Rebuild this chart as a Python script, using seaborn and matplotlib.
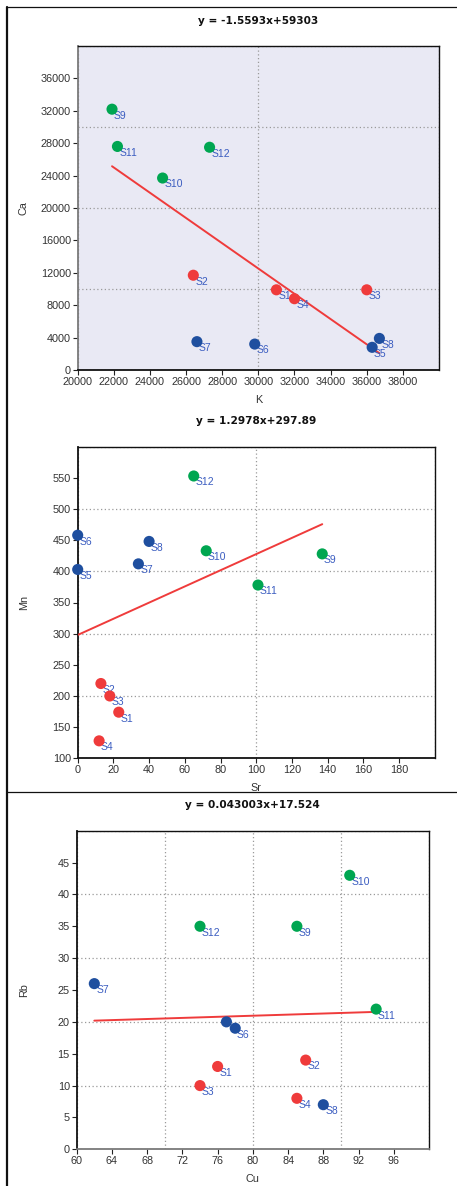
import numpy as np
import pandas as pd
import matplotlib
matplotlib.use("Agg")
import matplotlib.pyplot as plt
from matplotlib.lines import Line2D
from matplotlib.ticker import MultipleLocator
import seaborn as sns

# Sample identifiers and their groups
samples = ["S1", "S2", "S3", "S4", "S5", "S6", "S7", "S8", "S9", "S10", "S11", "S12"]
groups = ["A", "A", "A", "A", "B", "B", "B", "B", "C", "C", "C", "C"]

# Element concentrations
k_vals = [31000, 26400, 36000, 32000, 36300, 29800, 26600, 36700, 21900, 24700, 22200, 27300]
ca_vals = [9900, 11700, 9900, 8800, 2800, 3200, 3500, 3900, 32200, 23700, 27600, 27500]
sr_vals = [23, 13, 18, 12, 0, 0, 34, 40, 137, 72, 101, 65]
mn_vals = [174, 220, 200, 128, 403, 458, 412, 448, 428, 433, 378, 553]
cu_vals = [76, 86, 74, 85, 77, 78, 62, 88, 85, 91, 94, 74]
rb_vals = [13, 14, 10, 8, 20, 19, 26, 7, 35, 43, 22, 35]

# Linear fits (slope, intercept)
fit_ca_k = (-1.5593, 59303)
fit_mn_sr = (1.2978, 297.89)
fit_rb_cu = (0.043003, 17.524)

palette = {"A": "#ef3b3b", "B": "#1f4f9f", "C": "#00a651"}
label_color = "#3a5cc0"
tick_color = "#333333"

df = pd.DataFrame({
    "sample": samples, "group": groups,
    "K": k_vals, "Ca": ca_vals, "Sr": sr_vals, "Mn": mn_vals,
    "Cu": cu_vals, "Rb": rb_vals,
})

sns.set_style("ticks")
plt.rcParams["font.family"] = ["Liberation Sans", "DejaVu Sans"]

fig = plt.figure(figsize=(4.57, 11.86), dpi=100)

W, H = 457.0, 1186.0


def axes_at(left, top, right, bottom):
    return fig.add_axes([left / W, 1 - bottom / H, (right - left) / W, (bottom - top) / H])


panels = [
    dict(ax=axes_at(77.7, 46, 439, 370), x="K", y="Ca", fit=fit_ca_k,
         title="y = -1.5593x+59303", xlim=(20000, 40000), ylim=(0, 40000),
         xstep=2000, ystep=4000, xgrid=10000, ygrid=10000,
         xmaxtick=38000, ymaxtick=36000, face="#e9e9f4",
         left_spine="#7a7a7a", bottom_spine="#111111", hidden=[]),
    dict(ax=axes_at(77.7, 446.7, 434.7, 758.3), x="Sr", y="Mn", fit=fit_mn_sr,
         title="y = 1.2978x+297.89", xlim=(0, 200), ylim=(100, 600),
         xstep=20, ystep=50, xgrid=100, ygrid=100,
         xmaxtick=180, ymaxtick=550, face="white",
         left_spine="#111111", bottom_spine="#111111", hidden=[]),
    dict(ax=axes_at(76.7, 830.7, 429, 1149.3), x="Cu", y="Rb", fit=fit_rb_cu,
         title="y = 0.043003x+17.524", xlim=(60, 100), ylim=(0, 50),
         xstep=4, ystep=5, xgrid=10, ygrid=10,
         xmaxtick=96, ymaxtick=45, face="white",
         left_spine="#111111", bottom_spine="#7a7a7a", hidden=["S5"]),
]

for p in panels:
    ax = p["ax"]
    ax.set_facecolor(p["face"])
    ax.set_xlim(*p["xlim"])
    ax.set_ylim(*p["ylim"])

    # dotted reference grid (kept even where it meets a labelled tick)
    ax.xaxis.remove_overlapping_locs = False
    ax.yaxis.remove_overlapping_locs = False
    ax.xaxis.set_minor_locator(MultipleLocator(p["xgrid"]))
    ax.yaxis.set_minor_locator(MultipleLocator(p["ygrid"]))
    ax.grid(which="minor", color="#9a9a9a", linestyle=(0, (1, 2)), linewidth=0.9)
    ax.grid(which="major", visible=False)
    ax.tick_params(which="minor", length=0)
    ax.set_axisbelow(True)

    ax.set_xticks(np.arange(p["xlim"][0], p["xmaxtick"] + 1, p["xstep"]))
    ax.set_yticks(np.arange(p["ylim"][0], p["ymaxtick"] + 1, p["ystep"]))
    ax.tick_params(which="major", direction="out", length=3.4, width=0.8,
                   color="#222222", labelsize=7.8, labelcolor=tick_color, pad=1.5)

    # regression line over the sample range
    slope, intercept = p["fit"]
    xs = np.array([df[p["x"]].min(), df[p["x"]].max()])
    ax.plot(xs, slope * xs + intercept, color="#ef3b3b", linewidth=1.4, zorder=3)

    # sample labels sit beneath the markers
    for _, row in df.iterrows():
        if row["sample"] in p["hidden"]:
            continue
        ax.annotate(row["sample"], (row[p["x"]], row[p["y"]]),
                    xytext=(1.3, -4.6), textcoords="offset points",
                    ha="left", va="center", fontsize=7.5, color=label_color,
                    zorder=4, annotation_clip=False)

    sns.scatterplot(data=df, x=p["x"], y=p["y"], hue="group", palette=palette,
                    s=64, linewidth=0, legend=False, ax=ax, zorder=5, clip_on=False)

    for side in ["top", "right"]:
        ax.spines[side].set_color("#111111")
        ax.spines[side].set_linewidth(1.0)
    ax.spines["left"].set_color(p["left_spine"])
    ax.spines["left"].set_linewidth(1.3)
    ax.spines["bottom"].set_color(p["bottom_spine"])
    ax.spines["bottom"].set_linewidth(1.3)

    ax.set_title(p["title"], fontsize=7.6, fontweight="bold", pad=16,
                 family=["DejaVu Sans"], color="#111111")
    ax.set_xlabel(p["x"], fontsize=7.8, color=tick_color, labelpad=6)
    ax.set_ylabel(p["y"], fontsize=7.8, color=tick_color)
    ax.yaxis.set_label_coords(-0.135, 0.5)

# page frame lines
fig.add_artist(Line2D([7 / W, 7 / W], [1 - 7 / H, 0], color="#111111", linewidth=1.6))
fig.add_artist(Line2D([7 / W, 1], [1 - 7.3 / H, 1 - 7.3 / H], color="#111111", linewidth=0.9))
fig.add_artist(Line2D([7 / W, 1], [1 - 792.3 / H, 1 - 792.3 / H], color="#111111", linewidth=0.9))

fig.savefig("out.png", dpi=100)
